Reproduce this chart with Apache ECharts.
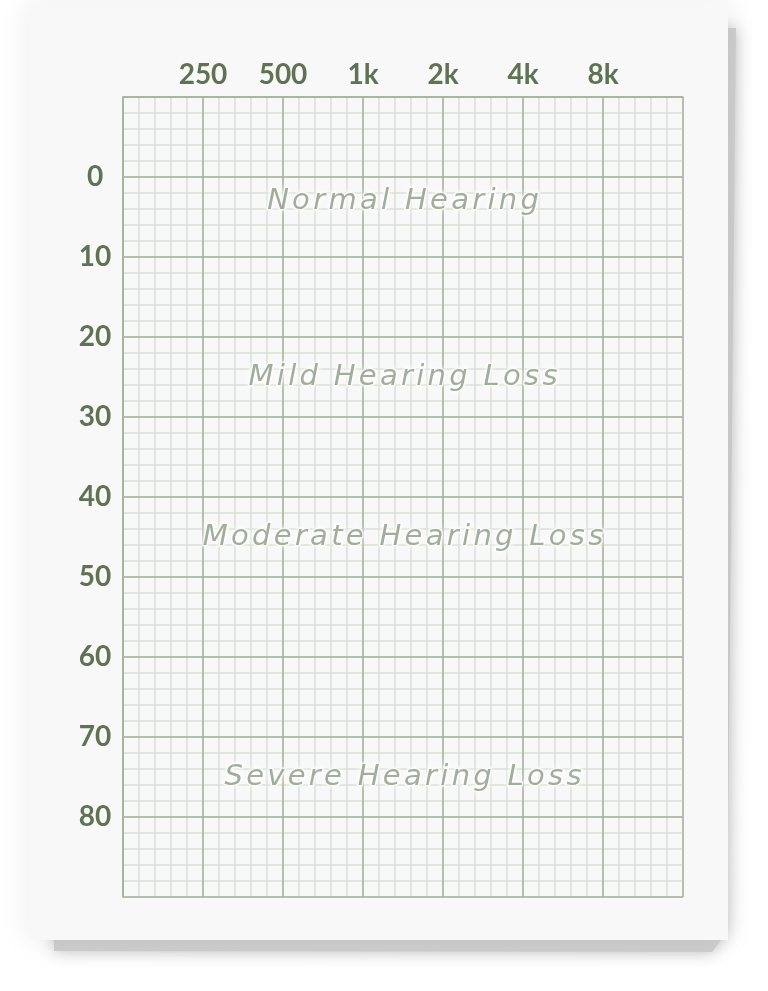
<!DOCTYPE html>
<html>
<head>
<meta charset="utf-8">
<script src="https://cdn.jsdelivr.net/npm/echarts@6/dist/echarts.min.js"></script>
<style>
  html, body { margin: 0; padding: 0; background: #ffffff; }
  #chart { width: 768px; height: 991px; }
</style>
</head>
<body>
<div id="chart"></div>
<script>
// audiogram axes: octave steps along the top, dB HL down the side
var freqLabels = ['250', '500', '1k', '2k', '4k', '8k'];
var dbTicks = [0, 10, 20, 30, 40, 50, 60, 70, 80];

// hearing ranges written across the grid
var bandNames = ['Normal Hearing', 'Mild Hearing Loss', 'Moderate Hearing Loss', 'Severe Hearing Loss'];
var bandLevels = [3, 25, 45, 75];
var bandFreq = 3.5; // middle of the chart, between 1k and 2k

var majorColor = '#a6b29e';
var minorColor = '#d9e0d5';
var labelColor = '#5f7354';

var chart = echarts.init(document.getElementById('chart'));

var bandData = [];
for (var i = 0; i < bandNames.length; i++) {
    bandData.push({ value: [bandFreq, bandLevels[i]], name: bandNames[i] });
}

// spread the letters out a bit, one rich token per character
function spaced(str) {
    return str.split('').map(function (ch) { return '{s|' + ch + '}'; }).join('');
}

// fine grid axis (no labels), drawn first
function fineAxis(min, max, step, inverse, pos) {
    return {
        type: 'value', min: min, max: max, interval: step, inverse: inverse, position: pos,
        axisLine: { show: false }, axisTick: { show: false }, axisLabel: { show: false },
        splitLine: { show: true, lineStyle: { color: minorColor, width: 1.5 } },
        z: 0
    };
}

var options = {
    backgroundColor: '#ffffff',
    animation: false,
    graphic: [
        // shadow under the sheet
        {
            type: 'polygon', z: -20, silent: true,
            shape: { points: [[54, 28], [736, 28], [727, 932], [712, 952], [54, 951]] },
            style: { fill: '#cfcfcf', shadowBlur: 16, shadowColor: 'rgba(0,0,0,0.25)' }
        },
        // the sheet itself
        {
            type: 'rect', z: -10, silent: true,
            shape: { x: 29, y: 2, width: 699, height: 938 },
            style: { fill: '#f8f8f8', shadowBlur: 30, shadowColor: 'rgba(0,0,0,0.08)' }
        }
    ],
    grid: {
        left: 123,
        top: 97,
        width: 560,
        height: 800,
        containLabel: false
    },
    xAxis: [
        fineAxis(0, 7, 0.2, false, 'bottom'),
        {
            type: 'value',
            position: 'top',
            min: 0,
            max: 7,
            interval: 1,
            z: 1,
            axisLine: { show: true, onZero: false, lineStyle: { color: majorColor, width: 1.5 } },
            axisTick: { show: false },
            splitLine: { show: true, lineStyle: { color: majorColor, width: 1.5 } },
            axisLabel: {
                margin: 8,
                color: labelColor,
                fontFamily: 'Lato',
                fontWeight: 'bold',
                fontSize: 28,
                formatter: function (v) { return freqLabels[v - 1] || ''; }
            }
        }
    ],
    yAxis: [
        fineAxis(-10, 90, 2, true, 'right'),
        {
            type: 'value',
            position: 'left',
            inverse: true,
            min: -10,
            max: 90,
            interval: 10,
            z: 1,
            axisLine: { show: true, onZero: false, lineStyle: { color: majorColor, width: 1.5 } },
            axisTick: { show: false },
            splitLine: { show: true, lineStyle: { color: majorColor, width: 1.5 } },
            axisLabel: {
                margin: 28,
                align: 'center',
                padding: [4, 0, 0, 0],
                color: labelColor,
                fontFamily: 'Lato',
                fontWeight: 'bold',
                fontSize: 28,
                formatter: function (v) { return dbTicks.indexOf(v) >= 0 ? String(v) : ''; }
            }
        }
    ],
    series: [{
        name: 'Ranges',
        type: 'scatter',
        xAxisIndex: 1,
        yAxisIndex: 1,
        symbolSize: 0,
        silent: true,
        z: 5,
        data: bandData,
        label: {
            show: true,
            position: 'inside',
            formatter: function (p) { return spaced(p.name); },
            rich: {
                s: {
                    fontFamily: 'DejaVu Sans',
                    fontStyle: 'italic',
                    fontSize: 29,
                    color: '#8b9a83',
                    padding: [0, 1.65, 0, 1.65],
                    textBorderColor: 'rgba(255,255,255,0.85)',
                    textBorderWidth: 3,
                    textShadowColor: 'rgba(255,255,255,0.9)',
                    textShadowBlur: 6
                }
            }
        }
    }]
};

chart.setOption(options);
</script>
</body>
</html>
